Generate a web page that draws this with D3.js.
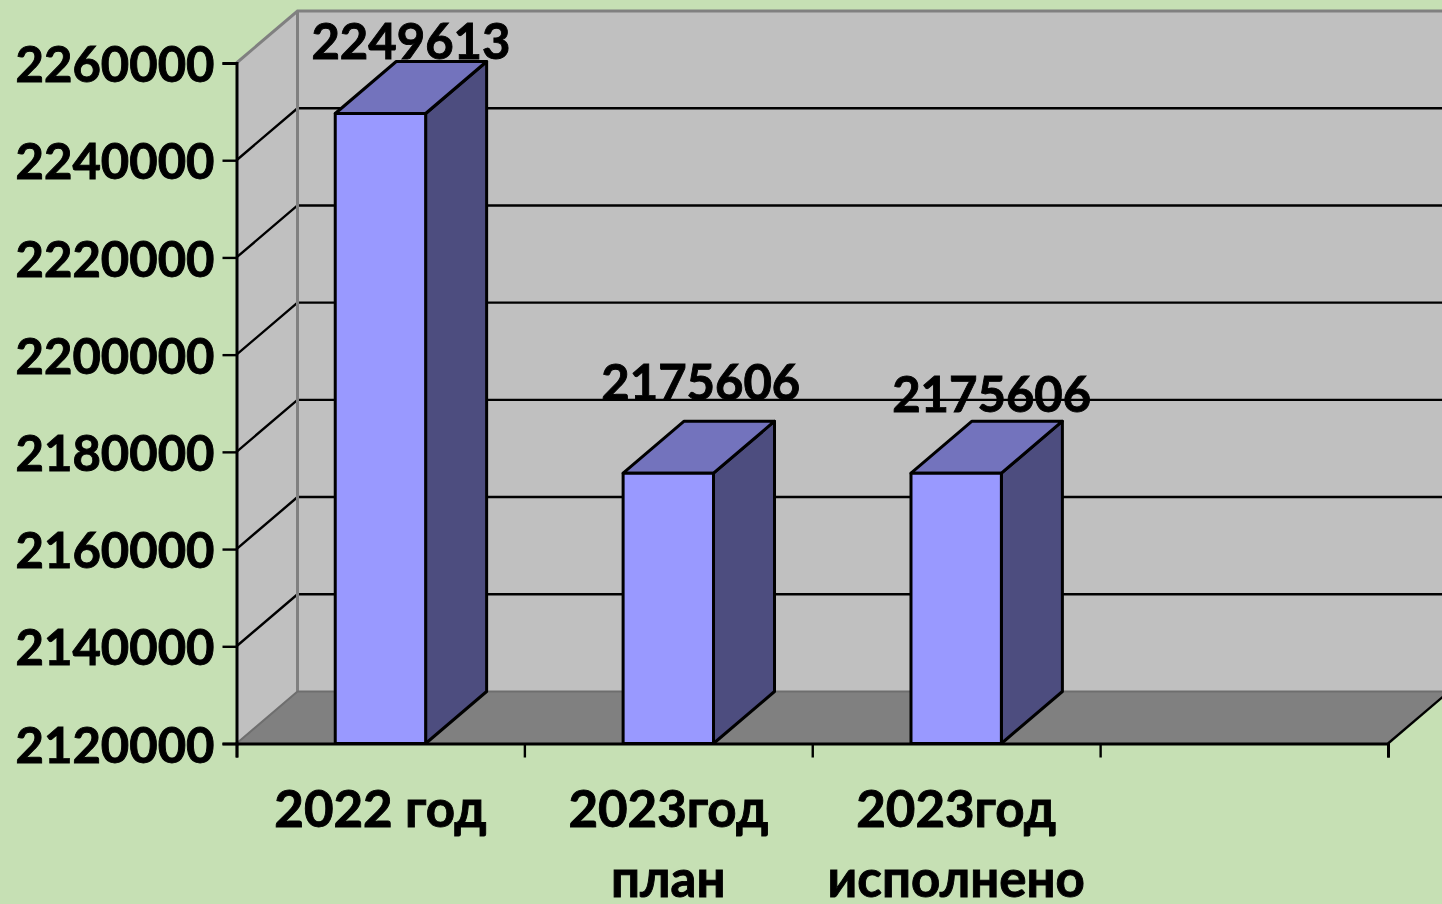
<!DOCTYPE html>
<html>
<head>
<meta charset="utf-8">
<script src="https://cdn.jsdelivr.net/npm/d3@7"></script>
<style>
  html, body { margin: 0; padding: 0; background: #c6e0b4; overflow: hidden; }
  svg { display: block; }
  text { font-family: Lato, "Noto Sans", sans-serif; font-weight: 700; fill: #000; stroke: #000; stroke-width: 0.9px; }
</style>
</head>
<body>
<div class="canvas"></div>
<script>
// data
const categories = ["2022 год", "2023год\nплан", "2023год\nисполнено", ""];
const values = [2249613, 2175606, 2175606];
const yTicks = [2120000, 2140000, 2160000, 2180000, 2200000, 2220000, 2240000, 2260000];

const width = 1442;
const height = 904;
const depth = { x: 61, y: -52 }; // 3d offset from front to back wall
const plot = { left: 236.5, right: 1388, top: 63, bottom: 743.5 };
const fontSize = 49;
const catFontSize = 51;

const svg = d3
  .select(".canvas")
  .append("svg")
  .attr("width", width)
  .attr("height", height);

const x = d3
  .scaleBand()
  .domain(categories)
  .range([plot.left, plot.right])
  .paddingInner(0.686)
  .paddingOuter(0.343);

const y = d3
  .scaleLinear()
  .domain([yTicks[0], yTicks[yTicks.length - 1]])
  .range([plot.bottom, plot.top]);

// tick marks sit between the categories
const xEdges = d3
  .scaleLinear()
  .domain([0, categories.length])
  .range([plot.left, plot.right]);

const pts = (arr) => arr.map((p) => p.join(",")).join(" ");

// walls and floor
const backX = plot.left + depth.x;
const backTop = plot.top + depth.y;
const backBottom = plot.bottom + depth.y;

svg
  .append("rect")
  .attr("x", backX)
  .attr("y", backTop)
  .attr("width", width - backX)
  .attr("height", backBottom - backTop)
  .attr("fill", "#c0c0c0");

svg
  .append("polygon")
  .attr("points", pts([
    [plot.left, plot.top],
    [backX, backTop],
    [backX, backBottom],
    [plot.left, plot.bottom],
  ]))
  .attr("fill", "#c0c0c0");

svg
  .append("polygon")
  .attr("points", pts([
    [plot.left, plot.bottom],
    [backX, backBottom],
    [plot.right + depth.x, backBottom],
    [plot.right, plot.bottom],
  ]))
  .attr("fill", "#808080");

// gridlines, back wall and left wall
const grid = svg.append("g");
yTicks.slice(1, -1).forEach((d) => {
  grid
    .append("polyline")
    .attr("points", pts([
      [plot.left, y(d)],
      [backX, y(d) + depth.y],
      [width, y(d) + depth.y],
    ]))
    .attr("fill", "none")
    .attr("stroke", "#000")
    .attr("stroke-width", 2.4);
});

// wall outlines
svg
  .append("polyline")
  .attr("points", pts([
    [plot.left, plot.top],
    [backX, backTop],
    [width, backTop],
  ]))
  .attr("fill", "none")
  .attr("stroke", "#808080")
  .attr("stroke-width", 3);

svg
  .append("line")
  .attr("x1", backX)
  .attr("x2", backX)
  .attr("y1", backTop)
  .attr("y2", backBottom)
  .attr("stroke", "#808080")
  .attr("stroke-width", 3);

svg
  .append("polyline")
  .attr("points", pts([
    [plot.left, plot.bottom],
    [backX, backBottom],
    [width, backBottom],
  ]))
  .attr("fill", "none")
  .attr("stroke", "#6e6e6e")
  .attr("stroke-width", 2);

// floor right edge
svg
  .append("line")
  .attr("x1", plot.right)
  .attr("y1", plot.bottom)
  .attr("x2", plot.right + depth.x)
  .attr("y2", backBottom)
  .attr("stroke", "#000")
  .attr("stroke-width", 2.4);

// axes
const yAxis = svg
  .append("g")
  .attr("transform", `translate(${plot.left},0)`)
  .call(d3.axisLeft(y).tickValues(yTicks).tickSize(14).tickPadding(8).tickFormat(d3.format("d")));

const xAxis = svg
  .append("g")
  .attr("transform", `translate(0,${plot.bottom})`)
  .call(d3.axisBottom(xEdges).ticks(categories.length).tickSize(14).tickFormat(""));

[yAxis, xAxis].forEach((a) => {
  a.selectAll("path, line").attr("stroke", "#000").attr("stroke-width", 2.4);
  a.select("path").attr("stroke-width", 3);
});

yAxis
  .selectAll("text")
  .attr("font-size", fontSize)
  .attr("dy", "0.38em");

// bars
const bars = svg
  .selectAll(".bar")
  .data(values)
  .enter()
  .append("g")
  .attr("class", "bar");

const bw = x.bandwidth();
const barStyle = (sel) => sel.attr("stroke", "#000").attr("stroke-width", 3).attr("stroke-linejoin", "round");

bars
  .append("polygon")
  .attr("points", (d, i) => {
    const x0 = x(categories[i]) + bw;
    return pts([
      [x0, y(d)],
      [x0 + depth.x, y(d) + depth.y],
      [x0 + depth.x, plot.bottom + depth.y],
      [x0, plot.bottom],
    ]);
  })
  .attr("fill", "#4d4d7f")
  .call(barStyle);

bars
  .append("polygon")
  .attr("points", (d, i) => {
    const x0 = x(categories[i]);
    return pts([
      [x0, y(d)],
      [x0 + depth.x, y(d) + depth.y],
      [x0 + bw + depth.x, y(d) + depth.y],
      [x0 + bw, y(d)],
    ]);
  })
  .attr("fill", "#7373bd")
  .call(barStyle);

bars
  .append("rect")
  .attr("x", (d, i) => x(categories[i]))
  .attr("y", (d) => y(d))
  .attr("width", bw)
  .attr("height", (d) => plot.bottom - y(d))
  .attr("fill", "#9999ff")
  .call(barStyle);

// value labels, each one nudged off its bar like in the original
const labelLift = [54, 73, 61];
const labelShift = [0, 2, 5];
svg
  .selectAll(".value")
  .data(values)
  .enter()
  .append("text")
  .attr("class", "value")
  .attr("x", (d, i) => x(categories[i]) + bw / 2 + depth.x / 2 + labelShift[i])
  .attr("y", (d, i) => y(d) - labelLift[i])
  .attr("text-anchor", "middle")
  .attr("font-size", fontSize)
  .text((d) => d);

// category labels
const catLabels = svg
  .selectAll(".cat")
  .data(categories)
  .enter()
  .append("text")
  .attr("class", "cat")
  .attr("text-anchor", "middle")
  .attr("font-size", catFontSize);

catLabels
  .selectAll("tspan")
  .data((d, i) => d.split("\n").map((t) => ({ t, i })))
  .enter()
  .append("tspan")
  .attr("x", (d) => x(categories[d.i]) + bw / 2)
  .attr("y", (d, j) => 827 + j * 70)
  .text((d) => d.t);
</script>
</body>
</html>
